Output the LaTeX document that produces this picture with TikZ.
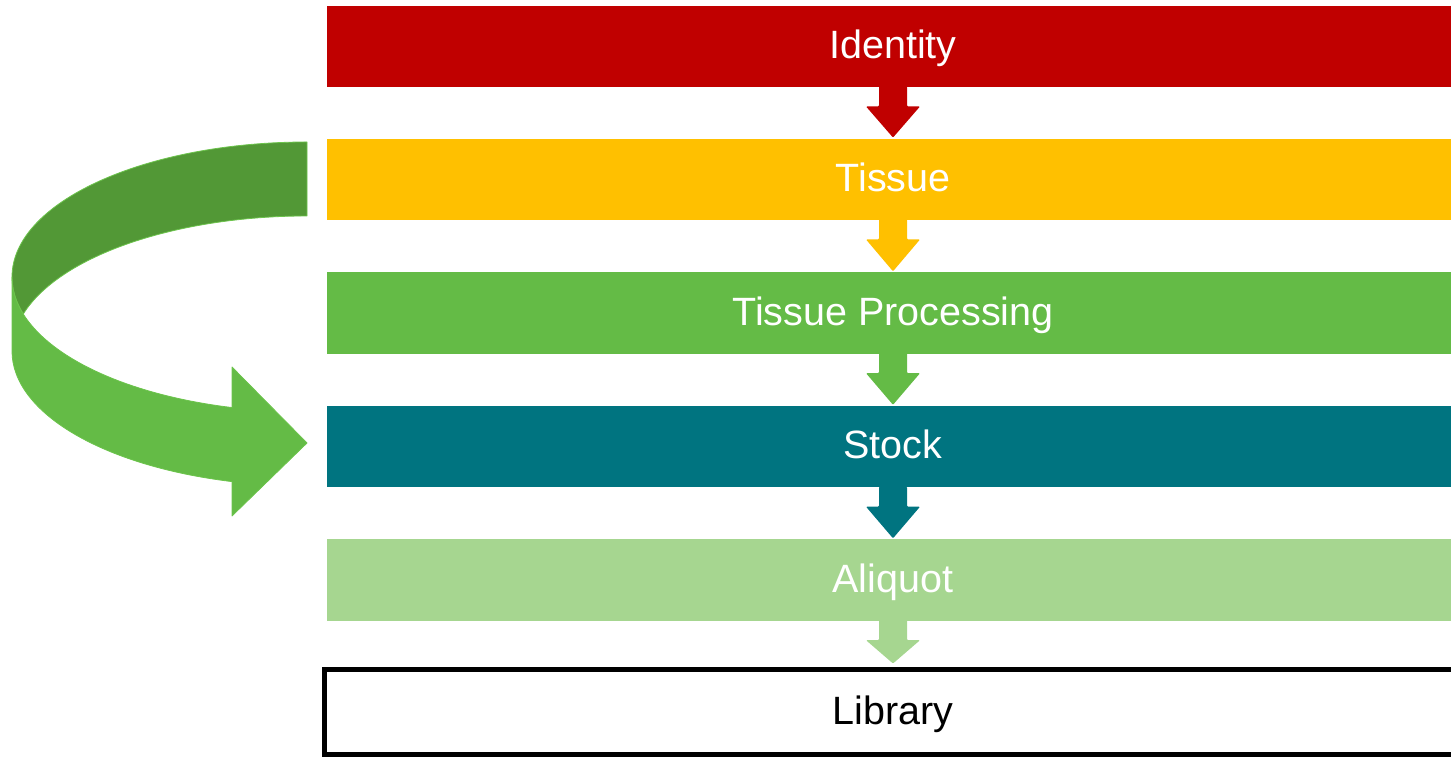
\documentclass[tikz,border=0pt]{standalone}
\usepackage{fontspec}
\setmainfont{Liberation Sans}
\usetikzlibrary{calc}
\definecolor{cred}{HTML}{C00000}
\definecolor{cyellow}{HTML}{FFC000}
\definecolor{cgreen}{HTML}{64BB46}
\definecolor{cteal}{HTML}{007480}
\definecolor{clight}{HTML}{A6D690}
\definecolor{cdark}{HTML}{529836}
\definecolor{cedge}{HTML}{6CC44C}
\tikzset{
  bar/.style={fill=#1, text=white, minimum width=1132pt, minimum height=81.5pt, inner sep=0pt,
    font=\fontsize{39.5}{47}\selectfont, text height=24.5pt, text depth=0pt},
  libbox/.style={draw=black, line width=5pt, fill=white, text=black, minimum width=1137pt, minimum height=85pt,
    inner sep=0pt, font=\fontsize{39.5}{47}\selectfont, text height=24.5pt, text depth=0pt},
  ribbon/.style={fill=#1, draw=cedge, line width=0.8pt, line join=round}
}
\newcommand{\stepdown}[4]{%
  \fill[#3, rounded corners=1pt] ($(#1.south)+(-14,1)$) -- ($(#1.south)+(-14,-19)$) -- ($(#1.south)+(-27,-19)$)
    -- ($(#2.north)+(0,#4)$) -- ($(#1.south)+(27,-19)$) -- ($(#1.south)+(14,-19)$) -- ($(#1.south)+(14,1)$) -- cycle;}
\begin{document}
\begin{tikzpicture}[x=1pt,y=1pt]
\useasboundingbox (0,0) rectangle (1451,757);
\clip (0,0) rectangle (1451,757);
% bars
\node[bar=cred] (identity) at (893,710.5) {Identity};
\node[bar=cyellow] (tissue) at (893,577.5) {Tissue};
\node[bar=cgreen] (processing) at (893,443.75) {Tissue Processing};
\node[bar=cteal] (stock) at (893,310.25) {Stock};
\node[bar=clight] (aliquot) at (893,176.75) {Aliquot};
\node[libbox] (library) at (893,45) {Library};
% small arrows
\stepdown{identity}{tissue}{cred}{1}
\stepdown{tissue}{processing}{cyellow}{1}
\stepdown{processing}{stock}{cgreen}{1}
\stepdown{stock}{aliquot}{cteal}{1}
\stepdown{aliquot}{library}{clight}{3.5}
% curved ribbon arrow: back (dark) part
\path[ribbon=cdark] (307,615) arc[start angle=90, end angle=180, x radius=295, y radius=135]
  arc[start angle=180, end angle=195.9, x radius=295, y radius=135]
  -- (23.3,443)
  arc[start angle=164.1, end angle=90, x radius=295, y radius=135]
  -- cycle;
% front (light) part with head
\path[ribbon=cgreen] (12,480) arc[start angle=180, end angle=255.27, x radius=295, y radius=135]
  -- (232,390) -- (307,314) -- (232,241) -- (232,275.4)
  arc[start angle=255.27, end angle=180, x radius=295, y radius=135]
  -- cycle;
\end{tikzpicture}
\end{document}
